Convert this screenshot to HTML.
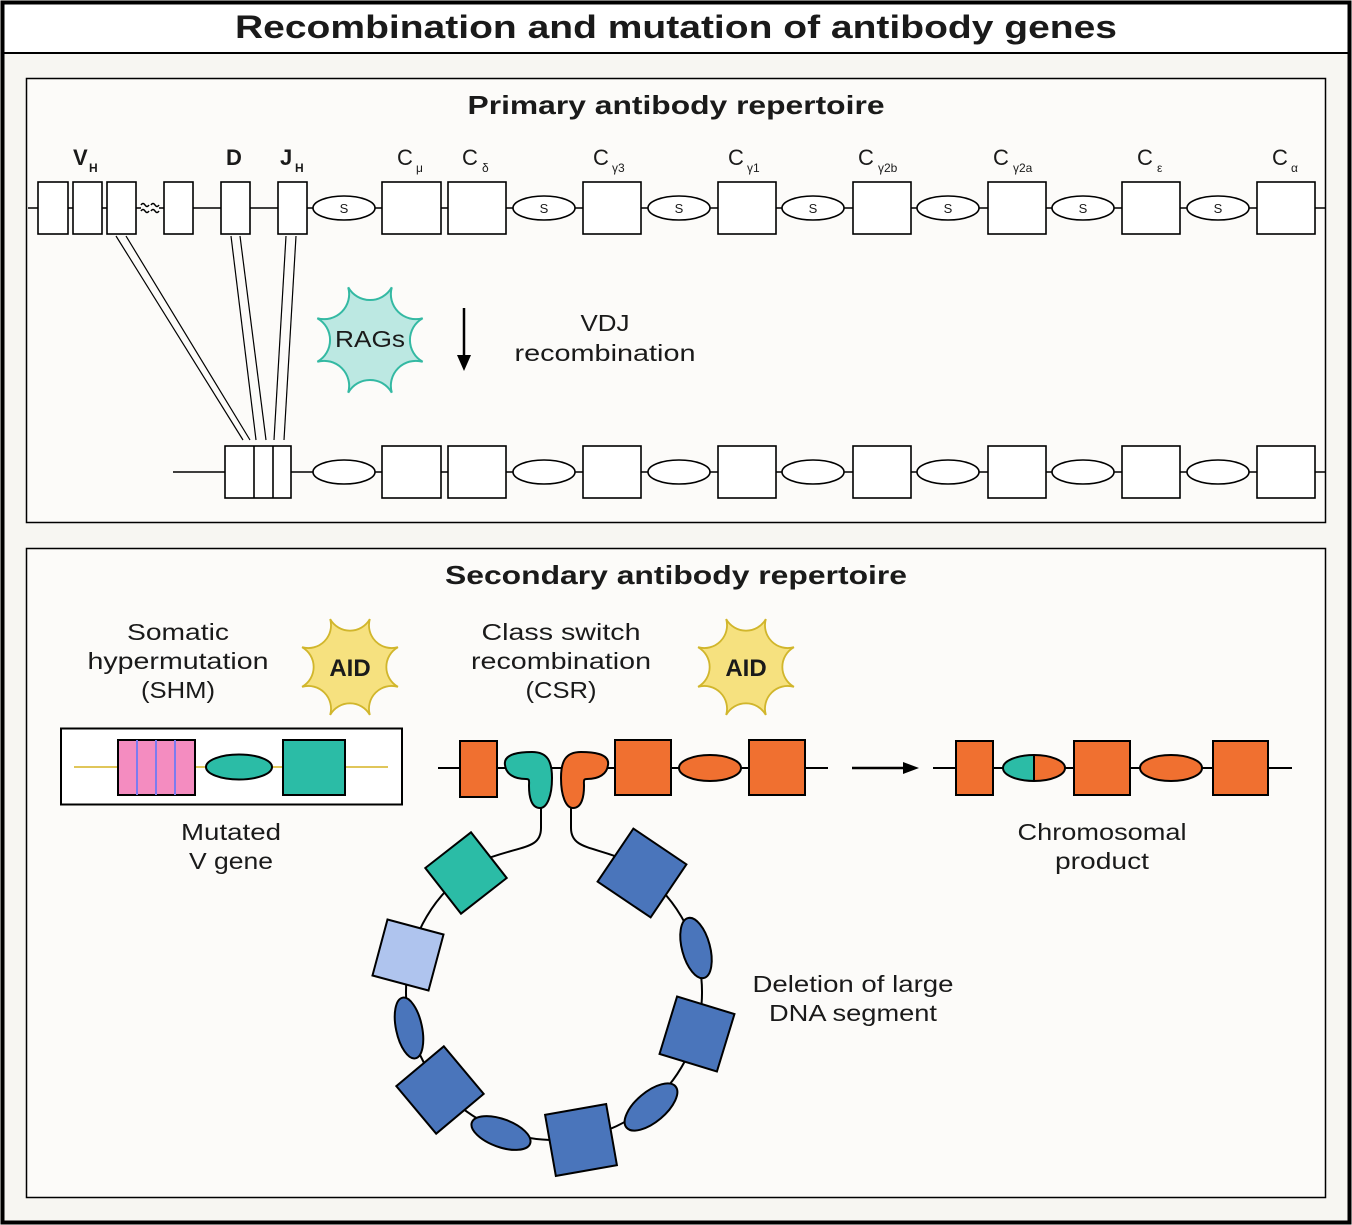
<!DOCTYPE html>
<html><head><meta charset="utf-8"><style>
html,body{margin:0;padding:0;background:#fff}
svg{display:block}
text{font-family:"Liberation Sans",sans-serif;fill:#1a1a1a}
</style></head><body>
<svg width="1352" height="1225" viewBox="0 0 1352 1225" xmlns="http://www.w3.org/2000/svg">
<rect x="0" y="0" width="1352" height="1225" fill="#f7f6f2"/>
<rect x="2" y="2" width="1348" height="51" fill="#fff"/>
<rect x="2.5" y="2.5" width="1347" height="1220" fill="none" stroke="#000" stroke-width="4"/>
<line x1="2" y1="53" x2="1350" y2="53" stroke="#000" stroke-width="2"/>
<text x="676" y="38" text-anchor="middle" font-size="32" font-weight="bold" textLength="882" lengthAdjust="spacingAndGlyphs">Recombination and mutation of antibody genes</text>

<rect x="26.5" y="78.5" width="1299" height="444" fill="#fcfbf9" stroke="#000" stroke-width="1.5"/>
<text x="676" y="114" text-anchor="middle" font-size="26" font-weight="bold" textLength="417" lengthAdjust="spacingAndGlyphs">Primary antibody repertoire</text>

<g font-size="22">
<text x="73" y="165" font-weight="bold">V</text><text x="89" y="172" font-size="12" font-weight="bold">H</text>
<text x="226" y="165" font-weight="bold">D</text>
<text x="280" y="165" font-weight="bold">J</text><text x="295" y="172" font-size="12" font-weight="bold">H</text>
<text x="397" y="165">C</text><text x="416" y="172" font-size="12">μ</text>
<text x="462" y="165">C</text><text x="482" y="172" font-size="12">δ</text>
<text x="593" y="165">C</text><text x="612" y="172" font-size="12">γ3</text>
<text x="728" y="165">C</text><text x="747" y="172" font-size="12">γ1</text>
<text x="858" y="165">C</text><text x="878" y="172" font-size="12">γ2b</text>
<text x="993" y="165">C</text><text x="1013" y="172" font-size="12">γ2a</text>
<text x="1137" y="165">C</text><text x="1157" y="172" font-size="12">ε</text>
<text x="1272" y="165">C</text><text x="1291" y="172" font-size="12">α</text>
</g>

<g stroke="#000" stroke-width="1.6" fill="#fff">
<line x1="28" y1="208" x2="1325" y2="208"/>
<rect x="38" y="182" width="30" height="52"/>
<rect x="73" y="182" width="29" height="52"/>
<rect x="107" y="182" width="29" height="52"/>
<rect x="141" y="200" width="18" height="16" fill="#fcfbf9" stroke="none"/>
<path d="M141 205 q2 -3 4 0 q2 3 4 0 M151 205 q2 -3 4 0 q2 3 4 0 M141 211 q2 -3 4 0 q2 3 4 0 M151 211 q2 -3 4 0 q2 3 4 0" fill="none" stroke-width="1.5"/>
<rect x="164" y="182" width="29" height="52"/>
<rect x="221" y="182" width="29" height="52"/>
<rect x="278" y="182" width="29" height="52"/>
<rect x="382" y="182" width="59" height="52"/>
<rect x="448" y="182" width="58" height="52"/>
<rect x="583" y="182" width="58" height="52"/>
<rect x="718" y="182" width="58" height="52"/>
<rect x="853" y="182" width="58" height="52"/>
<rect x="988" y="182" width="58" height="52"/>
<rect x="1122" y="182" width="58" height="52"/>
<rect x="1257" y="182" width="58" height="52"/>
<ellipse cx="344" cy="208" rx="31" ry="12"/>
<ellipse cx="544" cy="208" rx="31" ry="12"/>
<ellipse cx="679" cy="208" rx="31" ry="12"/>
<ellipse cx="813" cy="208" rx="31" ry="12"/>
<ellipse cx="948" cy="208" rx="31" ry="12"/>
<ellipse cx="1083" cy="208" rx="31" ry="12"/>
<ellipse cx="1218" cy="208" rx="31" ry="12"/>
</g>
<g font-size="13" text-anchor="middle">
<text x="344" y="213">S</text><text x="544" y="213">S</text><text x="679" y="213">S</text><text x="813" y="213">S</text><text x="948" y="213">S</text><text x="1083" y="213">S</text><text x="1218" y="213">S</text>
</g>

<g stroke="#000" stroke-width="1.2">
<line x1="116" y1="236" x2="243" y2="440"/>
<line x1="126" y1="236" x2="250" y2="440"/>
<line x1="231" y1="236" x2="256" y2="440"/>
<line x1="240" y1="236" x2="266" y2="440"/>
<line x1="286" y1="236" x2="274" y2="440"/>
<line x1="296" y1="236" x2="284" y2="440"/>
</g>

<path transform="translate(370,340)" d="M52.7,21.8 A25 25 0 0 0 21.8,52.7 A25 25 0 0 0 -21.8,52.7 A25 25 0 0 0 -52.7,21.8 A25 25 0 0 0 -52.7,-21.8 A25 25 0 0 0 -21.8,-52.7 A25 25 0 0 0 21.8,-52.7 A25 25 0 0 0 52.7,-21.8 A25 25 0 0 0 52.7,21.8 Z" fill="#bce8e2" stroke="#34b9a3" stroke-width="2"/>
<text x="370" y="347" text-anchor="middle" font-size="23" textLength="70" lengthAdjust="spacingAndGlyphs">RAGs</text>

<line x1="464" y1="308" x2="464" y2="358" stroke="#000" stroke-width="2.5"/>
<path d="M457 355 L464 371 L471 355 Z" fill="#000"/>
<text x="605" y="331" text-anchor="middle" font-size="23" textLength="49" lengthAdjust="spacingAndGlyphs">VDJ</text>
<text x="605" y="361" text-anchor="middle" font-size="23" textLength="181" lengthAdjust="spacingAndGlyphs">recombination</text>

<g stroke="#000" stroke-width="1.6" fill="#fff">
<line x1="173" y1="472" x2="1325" y2="472"/>
<rect x="225" y="446" width="66" height="52"/>
<line x1="254" y1="446" x2="254" y2="498"/>
<line x1="273" y1="446" x2="273" y2="498"/>
<rect x="382" y="446" width="59" height="52"/>
<rect x="448" y="446" width="58" height="52"/>
<rect x="583" y="446" width="58" height="52"/>
<rect x="718" y="446" width="58" height="52"/>
<rect x="853" y="446" width="58" height="52"/>
<rect x="988" y="446" width="58" height="52"/>
<rect x="1122" y="446" width="58" height="52"/>
<rect x="1257" y="446" width="58" height="52"/>
<ellipse cx="344" cy="472" rx="31" ry="12"/>
<ellipse cx="544" cy="472" rx="31" ry="12"/>
<ellipse cx="679" cy="472" rx="31" ry="12"/>
<ellipse cx="813" cy="472" rx="31" ry="12"/>
<ellipse cx="948" cy="472" rx="31" ry="12"/>
<ellipse cx="1083" cy="472" rx="31" ry="12"/>
<ellipse cx="1218" cy="472" rx="31" ry="12"/>
</g>

<rect x="26.5" y="548.5" width="1299" height="649" fill="#fcfbf9" stroke="#000" stroke-width="1.5"/>
<text x="676" y="584" text-anchor="middle" font-size="26" font-weight="bold" textLength="462" lengthAdjust="spacingAndGlyphs">Secondary antibody repertoire</text>

<g font-size="23" text-anchor="middle">
<text x="178" y="640" textLength="102" lengthAdjust="spacingAndGlyphs">Somatic</text>
<text x="178" y="669" textLength="181" lengthAdjust="spacingAndGlyphs">hypermutation</text>
<text x="178" y="698" textLength="74" lengthAdjust="spacingAndGlyphs">(SHM)</text>
<text x="561" y="640" textLength="159" lengthAdjust="spacingAndGlyphs">Class switch</text>
<text x="561" y="669" textLength="180" lengthAdjust="spacingAndGlyphs">recombination</text>
<text x="561" y="698" textLength="71" lengthAdjust="spacingAndGlyphs">(CSR)</text>
<text x="231" y="840" textLength="100" lengthAdjust="spacingAndGlyphs">Mutated</text>
<text x="231" y="869" textLength="84" lengthAdjust="spacingAndGlyphs">V gene</text>
<text x="1102" y="840" textLength="169" lengthAdjust="spacingAndGlyphs">Chromosomal</text>
<text x="1102" y="869" textLength="94" lengthAdjust="spacingAndGlyphs">product</text>
<text x="853" y="992" textLength="201" lengthAdjust="spacingAndGlyphs">Deletion of large</text>
<text x="853" y="1021" textLength="168" lengthAdjust="spacingAndGlyphs">DNA segment</text>
</g>

<path transform="translate(350,667) scale(0.91)" d="M52.7,21.8 A25 25 0 0 0 21.8,52.7 A25 25 0 0 0 -21.8,52.7 A25 25 0 0 0 -52.7,21.8 A25 25 0 0 0 -52.7,-21.8 A25 25 0 0 0 -21.8,-52.7 A25 25 0 0 0 21.8,-52.7 A25 25 0 0 0 52.7,-21.8 A25 25 0 0 0 52.7,21.8 Z" fill="#f6e17f" stroke="#d1b62c" stroke-width="2"/>
<text x="350" y="676" text-anchor="middle" font-size="24" font-weight="bold">AID</text>
<path transform="translate(746,667) scale(0.91)" d="M52.7,21.8 A25 25 0 0 0 21.8,52.7 A25 25 0 0 0 -21.8,52.7 A25 25 0 0 0 -52.7,21.8 A25 25 0 0 0 -52.7,-21.8 A25 25 0 0 0 -21.8,-52.7 A25 25 0 0 0 21.8,-52.7 A25 25 0 0 0 52.7,-21.8 A25 25 0 0 0 52.7,21.8 Z" fill="#f6e17f" stroke="#d1b62c" stroke-width="2"/>
<text x="746" y="676" text-anchor="middle" font-size="24" font-weight="bold">AID</text>

<rect x="61" y="728.5" width="341" height="76" fill="#fff" stroke="#000" stroke-width="2"/>
<line x1="74" y1="767" x2="388" y2="767" stroke="#e0c65a" stroke-width="2"/>
<rect x="118" y="740" width="77" height="55" fill="#f48cc0" stroke="#000" stroke-width="2"/>
<g stroke="#7b7cf0" stroke-width="2"><line x1="137" y1="740" x2="137" y2="795"/><line x1="156" y1="740" x2="156" y2="795"/><line x1="175" y1="740" x2="175" y2="795"/></g>
<ellipse cx="239" cy="767" rx="33" ry="12.5" fill="#2bbca6" stroke="#000" stroke-width="2"/>
<rect x="283" y="740" width="62" height="55" fill="#2bbca6" stroke="#000" stroke-width="2"/>

<g stroke="#000" stroke-width="2">
<line x1="438" y1="768" x2="828" y2="768"/>
<rect x="460" y="741" width="37" height="56" fill="#f07030"/>
<path d="M505 765 C503 753,522 752,532 752 C548 752,552 762,552 778 C552 796,547 808,540 808 C531 808,529 796,529 786 C529 781,530 779,526 779 C514 779,506 774,505 765 Z" fill="#2bbca6"/>
<path transform="translate(1113,0) scale(-1,1)" d="M505 765 C503 753,522 752,532 752 C548 752,552 762,552 778 C552 796,547 808,540 808 C531 808,529 796,529 786 C529 781,530 779,526 779 C514 779,506 774,505 765 Z" fill="#f07030"/>
<rect x="615" y="740" width="56" height="55" fill="#f07030"/>
<ellipse cx="710" cy="768" rx="31" ry="13" fill="#f07030"/>
<rect x="749" y="740" width="56" height="55" fill="#f07030"/>
</g>

<line x1="852" y1="768" x2="906" y2="768" stroke="#000" stroke-width="2.5"/>
<path d="M903 762 L919 768 L903 774 Z" fill="#000"/>

<g stroke="#000" stroke-width="2">
<line x1="933" y1="768" x2="1292" y2="768"/>
<rect x="956" y="741" width="37" height="54" fill="#f07030"/>
<path d="M1034 755 A31 13 0 0 0 1034 781 Z" fill="#2bbca6" stroke="none"/>
<path d="M1034 755 A31 13 0 0 1 1034 781 Z" fill="#f07030" stroke="none"/>
<ellipse cx="1034" cy="768" rx="31" ry="13" fill="none"/>
<line x1="1034" y1="755" x2="1034" y2="781"/>
<rect x="1074" y="741" width="56" height="54" fill="#f07030"/>
<ellipse cx="1171" cy="768" rx="31" ry="13" fill="#f07030"/>
<rect x="1213" y="741" width="55" height="54" fill="#f07030"/>
</g>

<g stroke="#000" stroke-width="2">
<path d="M466 873 A148 148 0 1 0 642 873" fill="none"/>
<path d="M541 808 L541 828 C541 850 520 845 478 862" fill="none"/>
<path d="M571 808 L571 828 C571 850 595 846 630 862" fill="none"/>
<rect x="-29" y="-29" width="58" height="58" fill="#2bbca6" transform="translate(466,873) rotate(-38)"/>
<rect x="-32" y="-32" width="64" height="64" fill="#4a75bb" transform="translate(642,873) rotate(34)"/>
<ellipse rx="14" ry="31" fill="#4a75bb" transform="translate(696,948) rotate(-15)"/>
<rect x="-29" y="-29" width="58" height="58" fill="#afc4ee" transform="translate(408,955) rotate(15)"/>
<ellipse rx="13" ry="31" fill="#4a75bb" transform="translate(409,1028) rotate(-12)"/>
<rect x="-30" y="-30" width="60" height="60" fill="#4a75bb" transform="translate(697,1034) rotate(17)"/>
<rect x="-31" y="-31" width="62" height="62" fill="#4a75bb" transform="translate(440,1090) rotate(-40)"/>
<ellipse rx="32" ry="15" fill="#4a75bb" transform="translate(651,1107) rotate(-40)"/>
<ellipse rx="31" ry="14" fill="#4a75bb" transform="translate(501,1133) rotate(20)"/>
<rect x="-31" y="-31" width="62" height="62" fill="#4a75bb" transform="translate(581,1140) rotate(-10)"/>
</g>
</svg>
</body></html>
